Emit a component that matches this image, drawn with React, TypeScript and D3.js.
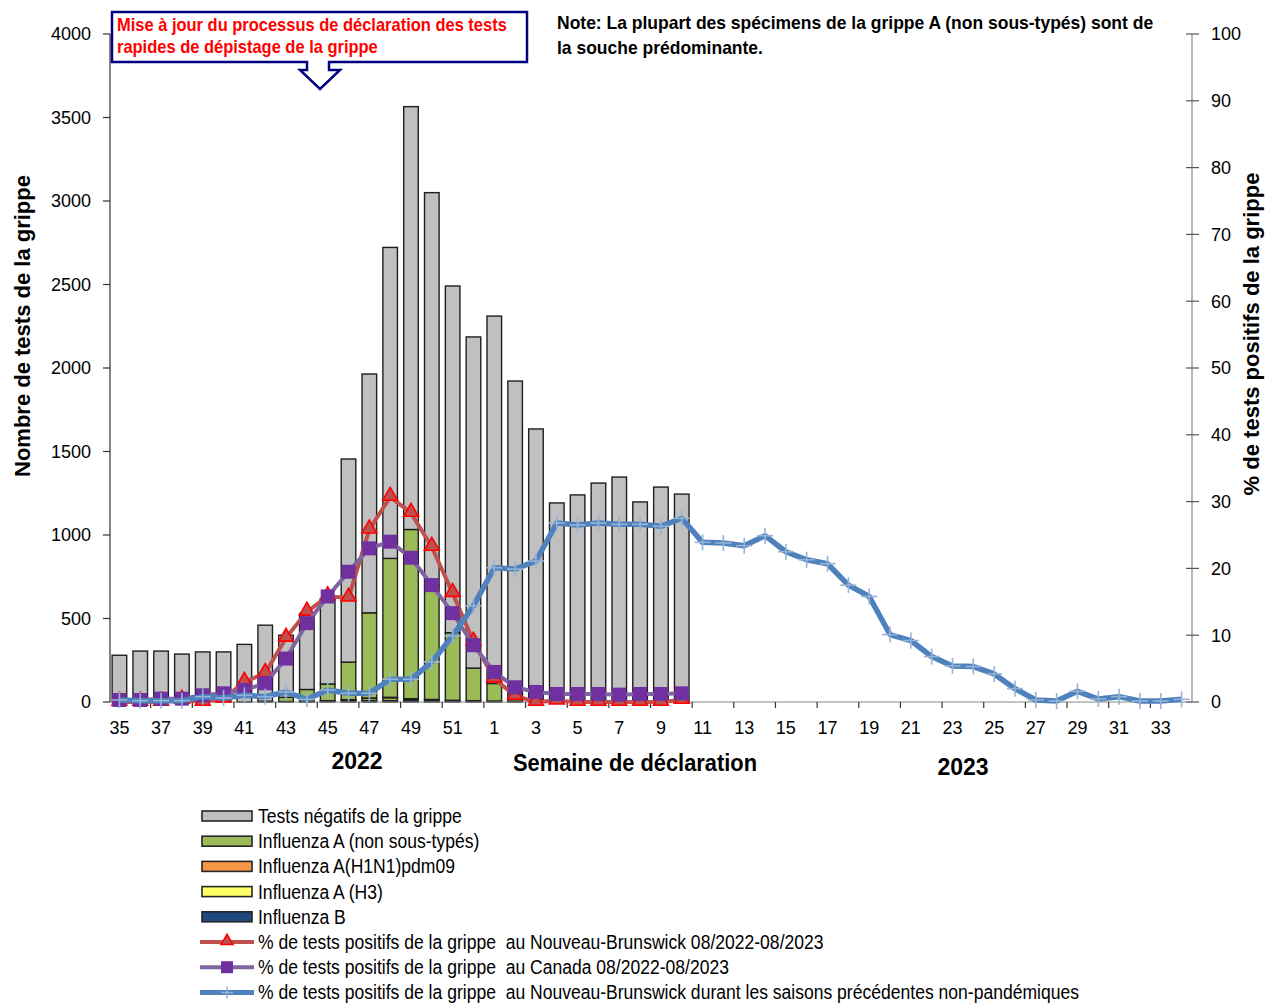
import { useEffect, useRef } from 'react';
import * as d3 from 'd3';

// weeks of the 2022-2023 season (35..52 then 1..34)
const weeks = [35, 36, 37, 38, 39, 40, 41, 42, 43, 44, 45, 46, 47, 48, 49, 50, 51, 52,
  1, 2, 3, 4, 5, 6, 7, 8, 9, 10, 11, 12, 13, 14, 15, 16, 17, 18, 19, 20, 21, 22, 23, 24,
  25, 26, 27, 28, 29, 30, 31, 32, 33, 34];

// counts, weeks 35..10 (28 weeks reported)
const negatives = [280, 305, 305, 287, 300, 300, 345, 455, 372, 455, 512, 1216, 1430, 1862,
  2532, 2355, 2076, 1983, 2200, 1872, 1617, 1192, 1240, 1311, 1347, 1198, 1287, 1245];
const fluANonSubtyped = [0, 0, 0, 0, 0, 0, 0, 5, 25, 70, 100, 225, 510, 832, 1013, 680, 405,
  195, 105, 45, 15, 0, 0, 0, 0, 0, 0, 0];
const fluH1N1 = [0, 0, 0, 0, 0, 0, 0, 0, 0, 0, 0, 0, 2, 3, 2, 0, 0, 0, 0, 0, 0, 0, 0, 0, 0, 0, 0, 0];
const fluH3 = [0, 0, 0, 0, 0, 0, 0, 0, 0, 0, 0, 4, 12, 15, 6, 3, 0, 0, 0, 0, 0, 0, 0, 0, 0, 0, 0, 0];
const fluB = [0, 0, 0, 0, 0, 0, 0, 0, 3, 5, 8, 10, 10, 10, 12, 12, 10, 8, 6, 5, 3, 0, 0, 0, 0, 0, 0, 0];

// % positive
const pctNB = [0, 0, 0, 0.3, 0, 0.5, 3.0, 4.3, 9.6, 13.5, 15.8, 15.6, 25.8, 30.7, 28.3, 23.2,
  16.3, 9.0, 3.5, 0.9, 0, 0.2, 0, 0, 0, 0, 0, 0.3];
const pctCanada = [0.3, 0.3, 0.5, 0.5, 1.0, 1.3, 1.8, 2.8, 6.5, 11.8, 15.8, 19.5, 23.0, 24.0,
  21.6, 17.5, 13.3, 8.5, 4.5, 2.2, 1.5, 1.2, 1.2, 1.2, 1.1, 1.2, 1.2, 1.3];
const pctNBPrevious = [0.3, 0.2, 0.2, 0.2, 0.8, 0.6, 1.0, 0.8, 1.5, 0.4, 1.8, 1.3, 1.3, 3.4,
  3.4, 6.0, 9.9, 14.4, 20.1, 19.9, 21.1, 26.8, 26.5, 26.8, 26.6, 26.6, 26.3, 27.5, 23.9, 23.8,
  23.4, 24.9, 22.5, 21.3, 20.7, 17.5, 15.8, 10.1, 9.2, 6.8, 5.4, 5.3, 4.2, 2.0, 0.3, 0.15, 1.6,
  0.45, 0.8, 0.15, 0.15, 0.4];

const leftTicks = [0, 500, 1000, 1500, 2000, 2500, 3000, 3500, 4000];
const rightTicks = [0, 10, 20, 30, 40, 50, 60, 70, 80, 90, 100];

const legendLabels = [
  'Tests négatifs de la grippe',
  'Influenza A (non sous-typés)',
  'Influenza A(H1N1)pdm09',
  'Influenza A (H3)',
  'Influenza B',
  '% de tests positifs de la grippe  au Nouveau-Brunswick 08/2022-08/2023',
  '% de tests positifs de la grippe  au Canada 08/2022-08/2023',
  '% de tests positifs de la grippe  au Nouveau-Brunswick durant les saisons précédentes non-pandémiques',
];

const FONT = "'Liberation Sans Narrow', 'Arial Narrow', 'Liberation Sans', Arial, sans-serif";

// squeeze text horizontally to mimic a condensed face
function narrow(sel, k) {
  sel.each(function () {
    const len = this.getComputedTextLength();
    d3.select(this).attr('textLength', len * k).attr('lengthAdjust', 'spacingAndGlyphs');
  });
}

function FluChart({ width = 1274, height = 1003 }) {
  const svgRef = useRef(null);

  useEffect(() => {
    const svg = d3.select(svgRef.current);
    svg.selectAll('*').remove();
    svg.style('font-family', FONT);

    const keys = weeks.map((w, i) => `${i}-${w}`);
    const x = d3.scaleBand().domain(keys).range([109, 1192]).paddingInner(0.3).paddingOuter(0.15);
    const yL = d3.scaleLinear().domain([0, 4000]).range([702, 34]);
    const yR = d3.scaleLinear().domain([0, 100]).range([702, 34]);

    const colors = { b: '#1F497D', h3: '#FFFF66', h1: '#F79646', a: '#9BBB59', neg: '#C0C0C0' };
    const rows = negatives.map((n, i) => ({
      key: keys[i], b: fluB[i], h3: fluH3[i], h1: fluH1N1[i], a: fluANonSubtyped[i], neg: n,
    }));
    const stack = d3.stack().keys(['b', 'h3', 'h1', 'a', 'neg'])(rows);

    // stacked bars
    stack.forEach(layer => {
      svg.append('g')
        .selectAll('rect')
        .data(layer.filter(d => d[1] > d[0]))
        .join('rect')
        .attr('x', d => x(d.data.key))
        .attr('width', x.bandwidth())
        .attr('y', d => yL(d[1]))
        .attr('height', d => yL(d[0]) - yL(d[1]))
        .attr('fill', colors[layer.key])
        .attr('stroke', '#1f1f1f')
        .attr('stroke-width', 1.4);
    });

    // left axis
    const gl = svg.append('g');
    gl.append('line').attr('x1', 110).attr('x2', 110).attr('y1', 34).attr('y2', 702)
      .attr('stroke', '#333').attr('stroke-width', 1.2);
    gl.selectAll('line.t').data(leftTicks).join('line').attr('class', 't')
      .attr('x1', 103).attr('x2', 110).attr('y1', d => yL(d)).attr('y2', d => yL(d))
      .attr('stroke', '#333').attr('stroke-width', 1.2);
    gl.selectAll('text').data(leftTicks).join('text')
      .attr('x', 91).attr('y', d => yL(d)).attr('dy', '0.35em')
      .attr('text-anchor', 'end').attr('font-size', 18).text(d => d);

    // right axis
    const gr = svg.append('g');
    gr.append('line').attr('x1', 1192).attr('x2', 1192).attr('y1', 34).attr('y2', 702)
      .attr('stroke', '#888').attr('stroke-width', 1.2);
    gr.selectAll('line.t').data(rightTicks).join('line').attr('class', 't')
      .attr('x1', 1186).attr('x2', 1199).attr('y1', d => yR(d)).attr('y2', d => yR(d))
      .attr('stroke', '#555').attr('stroke-width', 1.2);
    gr.selectAll('text').data(rightTicks).join('text')
      .attr('x', 1211).attr('y', d => yR(d)).attr('dy', '0.35em')
      .attr('font-size', 18).text(d => d);

    // x axis
    const gx = svg.append('g');
    gx.append('line').attr('x1', 110).attr('x2', 1192).attr('y1', 702).attr('y2', 702)
      .attr('stroke', '#888').attr('stroke-width', 1.2);
    const labelled = keys.filter((k, i) => i % 2 === 0);
    gx.selectAll('line.t').data(labelled.slice(1)).join('line').attr('class', 't')
      .attr('x1', d => x(d) - x.step() * 0.15).attr('x2', d => x(d) - x.step() * 0.15)
      .attr('y1', 702).attr('y2', 708)
      .attr('stroke', '#333').attr('stroke-width', 1.2);
    gx.selectAll('text').data(labelled).join('text')
      .attr('x', d => x(d) + x.bandwidth() / 2).attr('y', 734)
      .attr('text-anchor', 'middle').attr('font-size', 18)
      .text(d => d.split('-')[1]);

    const cx = i => x(keys[i]) + x.bandwidth() / 2;

    // NB 2022-2023
    const line = yScale => d3.line().x((d, i) => cx(i)).y(d => yScale(d));
    svg.append('path').datum(pctNB).attr('d', line(yR)).attr('fill', 'none')
      .attr('stroke', '#C0504D').attr('stroke-width', 4).attr('stroke-linejoin', 'round');
    const tri = d3.symbol().type(d3.symbolTriangle).size(95);
    svg.append('g').selectAll('path').data(pctNB).join('path')
      .attr('d', tri)
      .attr('transform', (d, i) => `translate(${cx(i)},${yR(d) - 1})`)
      .attr('fill', '#C0504D').attr('stroke', '#FF0000').attr('stroke-width', 1.6);

    // Canada
    svg.append('path').datum(pctCanada).attr('d', line(yR)).attr('fill', 'none')
      .attr('stroke', '#8064A2').attr('stroke-width', 4).attr('stroke-linejoin', 'round');
    svg.append('g').selectAll('rect').data(pctCanada).join('rect')
      .attr('x', (d, i) => cx(i) - 7).attr('y', d => yR(d) - 7)
      .attr('width', 14).attr('height', 14).attr('fill', '#7030A0');

    // NB previous seasons
    svg.append('path').datum(pctNBPrevious).attr('d', line(yR)).attr('fill', 'none')
      .attr('stroke', '#4F81BD').attr('stroke-width', 5.5).attr('stroke-linejoin', 'round');
    const plus = svg.append('g').attr('stroke', '#95B3D7').attr('stroke-width', 1.6);
    pctNBPrevious.forEach((d, i) => {
      plus.append('line').attr('x1', cx(i) - 8).attr('x2', cx(i) + 8)
        .attr('y1', yR(d)).attr('y2', yR(d));
      plus.append('line').attr('x1', cx(i)).attr('x2', cx(i))
        .attr('y1', yR(d) - 8).attr('y2', yR(d) + 8);
    });

    // axis titles
    svg.append('text').attr('transform', 'translate(30,326) rotate(-90)')
      .attr('text-anchor', 'middle').attr('font-weight', 'bold').attr('font-size', 22)
      .text('Nombre de tests de la grippe');
    svg.append('text').attr('transform', 'translate(1259,334) rotate(-90)')
      .attr('text-anchor', 'middle').attr('font-weight', 'bold').attr('font-size', 22)
      .text('% de tests positifs de la grippe');
    svg.append('text').attr('x', 357).attr('y', 769).attr('text-anchor', 'middle')
      .attr('font-weight', 'bold').attr('font-size', 23).text('2022');
    svg.append('text').attr('x', 635).attr('y', 771).attr('text-anchor', 'middle')
      .attr('font-weight', 'bold').attr('font-size', 24).text('Semaine de déclaration')
      .call(narrow, 0.91);
    svg.append('text').attr('x', 963).attr('y', 775).attr('text-anchor', 'middle')
      .attr('font-weight', 'bold').attr('font-size', 23).text('2023');

    // callout
    svg.append('path')
      .attr('d', 'M112,12 H527 V62 H329 V70 H340 L320,89 L300,70 H307 V62 H112 Z')
      .attr('fill', 'white').attr('stroke', '#000080').attr('stroke-width', 2.5);
    const callout = svg.append('text').attr('fill', '#FF0000').attr('font-weight', 'bold')
      .attr('font-size', 18.5);
    callout.append('tspan').attr('x', 117).attr('y', 31)
      .text('Mise à jour du processus de déclaration des tests').call(narrow, 0.89);
    callout.append('tspan').attr('x', 117).attr('y', 53)
      .text('rapides de dépistage de la grippe').call(narrow, 0.89);

    // note
    const note = svg.append('text').attr('font-weight', 'bold').attr('font-size', 18.5);
    note.append('tspan').attr('x', 557).attr('y', 29)
      .text('Note: La plupart des spécimens de la grippe A (non sous-typés) sont de')
      .call(narrow, 0.945);
    note.append('tspan').attr('x', 557).attr('y', 54).text('la souche prédominante.')
      .call(narrow, 0.945);

    // legend
    const lg = svg.append('g');
    const rowY = i => 816 + i * 25.2;
    ['neg', 'a', 'h1', 'h3', 'b'].forEach((k, i) => {
      lg.append('rect').attr('x', 202).attr('y', rowY(i) - 5).attr('width', 50).attr('height', 10)
        .attr('fill', colors[k]).attr('stroke', '#262626').attr('stroke-width', 1.6);
    });
    lg.append('line').attr('x1', 200).attr('x2', 254).attr('y1', rowY(5)).attr('y2', rowY(5))
      .attr('stroke', '#C0504D').attr('stroke-width', 4);
    lg.append('path').attr('d', d3.symbol().type(d3.symbolTriangle).size(60))
      .attr('transform', `translate(227,${rowY(5) - 1})`)
      .attr('fill', '#C0504D').attr('stroke', '#FF0000').attr('stroke-width', 1.5);
    lg.append('line').attr('x1', 200).attr('x2', 254).attr('y1', rowY(6)).attr('y2', rowY(6))
      .attr('stroke', '#8064A2').attr('stroke-width', 4);
    lg.append('rect').attr('x', 221).attr('y', rowY(6) - 6).attr('width', 12).attr('height', 12)
      .attr('fill', '#7030A0');
    lg.append('line').attr('x1', 200).attr('x2', 254).attr('y1', rowY(7)).attr('y2', rowY(7))
      .attr('stroke', '#4F81BD').attr('stroke-width', 5);
    lg.append('path').attr('d', `M221,${rowY(7)} H233 M227,${rowY(7) - 6} V${rowY(7) + 6}`)
      .attr('stroke', '#95B3D7').attr('stroke-width', 1.5);
    lg.selectAll('text').data(legendLabels).join('text')
      .attr('x', 258).attr('y', (d, i) => rowY(i)).attr('dy', '0.35em')
      .attr('font-size', 20).style('white-space', 'pre').text(d => d)
      .call(narrow, 0.877);
  }, [width, height]);

  return (
    <svg
      ref={svgRef}
      width={width}
      height={height}
      style={{ position: 'absolute', left: 0, top: 0, background: 'white' }}
    />
  );
}

export default function App() {
  return <FluChart />;
}
